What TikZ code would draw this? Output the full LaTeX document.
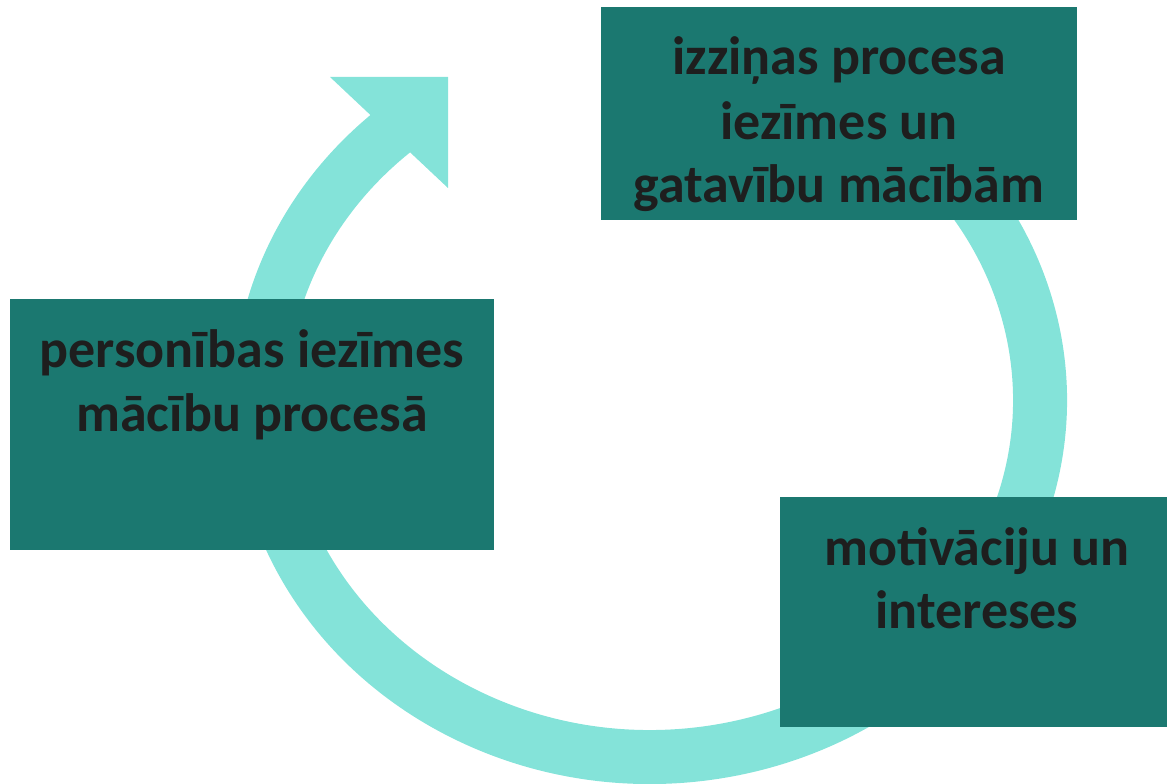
\documentclass[tikz,border=0pt]{standalone}
\usepackage{fontspec}
\setmainfont{Carlito}
\definecolor{boxteal}{HTML}{1B7870}
\definecolor{ringteal}{HTML}{84E3D9}
\definecolor{txtdark}{HTML}{1E1E1E}
\begin{document}
\begin{tikzpicture}[x=1pt,y=1pt,
  box/.style={fill=boxteal, draw=none, inner sep=0pt},
  lbl/.style={text=txtdark, font=\fontsize{54}{65}\selectfont\bfseries, anchor=base, inner sep=0pt},
  ring/.style={draw=ringteal, line width=54pt}]
\useasboundingbox (0,0) rectangle (1167,784);
% circular arrow
\coordinate (ctr) at (650,384);
\draw[ring] ([shift={(60:390 and 357)}]ctr) arc[start angle=60, end angle=-230, x radius=390, y radius=357];
\coordinate (h1) at (330,707);
\coordinate (h2) at (448,707);
\coordinate (h3) at (448,596);
\fill[ringteal] (h1) -- (h2) -- (h3) -- cycle;
% boxes
\node[box, minimum width=476pt, minimum height=213pt] (topbox) at (839,670.5) {};
\node[box, minimum width=484pt, minimum height=251pt] (leftbox) at (252,359.5) {};
\node[box, minimum width=387pt, minimum height=230pt] (botbox) at (973.5,172) {};
% labels
\node[lbl] (t1) at (839,709) {izziņas procesa};
\node[lbl] (t2) at (839,644) {iezīmes un};
\node[lbl] (t3) at (839,581) {gatavību mācībām};
\node[lbl] (l1) at (252,416) {personības iezīmes};
\node[lbl] (l2) at (252,352) {mācību procesā};
\node[lbl] (b1) at (977,218) {motivāciju un};
\node[lbl] (b2) at (977,155) {intereses};
\end{tikzpicture}
\end{document}
